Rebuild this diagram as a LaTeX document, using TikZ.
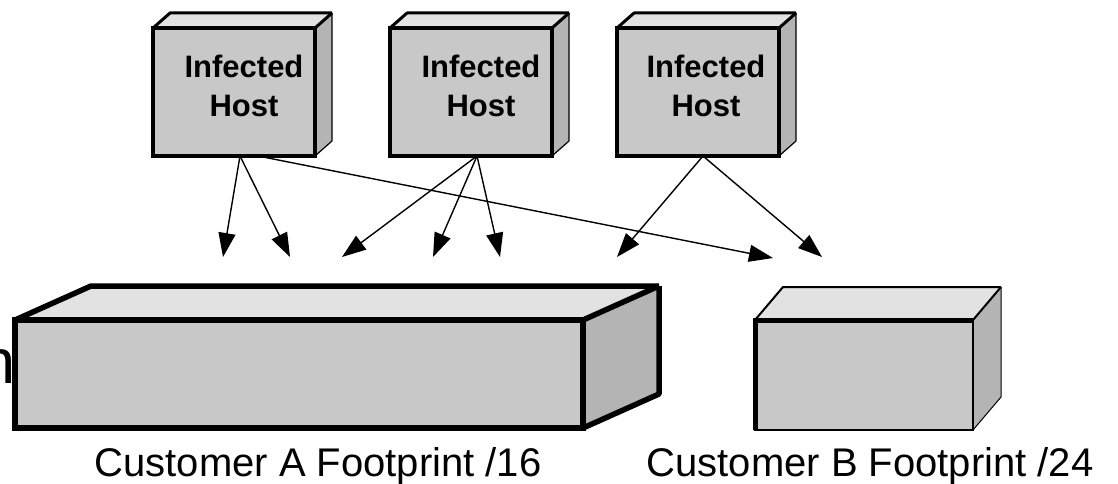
\documentclass[tikz,border=0pt]{standalone}
\usepackage{fontspec}
\setmainfont{Liberation Sans}
\usetikzlibrary{arrows.meta,calc,backgrounds}

\definecolor{frontgray}{RGB}{200,200,200}
\definecolor{topgray}{RGB}{226,226,226}
\definecolor{sidegray}{RGB}{180,180,180}

% top and side faces of a box whose front face is node #1,
% receding by (#2,#3); #4 = outline width, #5 = width of the far edges
\newcommand\cuboidfaces[5]{%
  \fill[topgray] (#1.north west) -- ++(#2,#3) -- ($(#1.north east)+(#2,#3)$) -- (#1.north east) -- cycle;
  \fill[sidegray] (#1.north east) -- ++(#2,#3) -- ($(#1.south east)+(#2,#3)$) -- (#1.south east) -- cycle;
  \draw[line width=#4, line join=round] (#1.north west) -- ++(#2,#3) -- ($(#1.north east)+(#2,#3)$);
  \draw[line width=#4] (#1.north east) -- ++(#2,#3);
  \draw[line width=#5, line join=round] ($(#1.north east)+(#2,#3)$) -- ($(#1.south east)+(#2,#3)$) -- (#1.south east);
}

\begin{document}
\begin{tikzpicture}[x=1pt,y=-1pt,
  front/.style={draw=black, fill=frontgray, inner sep=0pt, outer sep=0pt},
  hostbox/.style={front, line width=4pt, minimum width=162pt, minimum height=128pt},
  hosttext/.style={align=center, inner sep=0pt, font=\bfseries\fontsize{31}{39}\selectfont},
  caption/.style={anchor=base, inner sep=0pt, font=\fontsize{40}{48}\selectfont},
  arr/.style={line width=1.4pt, -{Triangle[length=24pt,width=17pt]}}]

\useasboundingbox (0,0) rectangle (1118,484);

% infected hosts
\node[hostbox] (h1) at (234,92) {};
\node[hostbox] (h2) at (471,92) {};
\node[hostbox] (h3) at (698,92) {};
\node[hosttext] (h1t) at (244,86) {Infected\\Host};
\node[hosttext] (h2t) at (481,86) {Infected\\Host};
\node[hosttext] (h3t) at (706,86) {Infected\\Host};

% customer footprints
\node[front, line width=5.5pt, minimum width=568pt, minimum height=108pt] (ca) at (299,374) {};
\node[front, line width=2.5pt, minimum width=218pt, minimum height=110pt] (cb) at (864,375) {};
\draw[line width=5pt] (cb.south west) -- (cb.north west) -- (cb.north east);

\begin{scope}[on background layer]
  \cuboidfaces{h1}{17}{-15}{3pt}{1.2pt}
  \cuboidfaces{h2}{17}{-15}{3pt}{1.2pt}
  \cuboidfaces{h3}{17}{-15}{3pt}{1.2pt}
  \cuboidfaces{ca}{76}{-34}{5.5pt}{5.5pt}
  \cuboidfaces{cb}{28}{-33}{2pt}{1pt}
\end{scope}

% arrow targets
\coordinate (t1) at (223,257);
\coordinate (t2) at (290,257);
\coordinate (t3) at (773,258);
\coordinate (t4) at (342,257);
\coordinate (t5) at (433,257);
\coordinate (t6) at (500,257);
\coordinate (t7) at (617,257);
\coordinate (t8) at (822,257);

\draw[arr] ($(h1.south)+(6,0)$) -- (t1);
\draw[arr] ($(h1.south)+(6,0)$) -- (t2);
\draw[arr] ($(h1.south)+(24,0)$) -- (t3);
\draw[arr] ($(h2.south)+(6,0)$) -- (t4);
\draw[arr] ($(h2.south)+(6,0)$) -- (t5);
\draw[arr] ($(h2.south)+(6,0)$) -- (t6);
\draw[arr] ($(h3.south)+(5,0)$) -- (t7);
\draw[arr] ($(h3.south)+(5,0)$) -- (t8);

% captions
\node[caption] (la) at (318,476) {Customer A Footprint /16};
\node[caption] (lb) at (870,476) {Customer B Footprint /24};

% trailing letter of a word cut at the left margin
\node[anchor=base east, inner sep=0pt, font=\fontsize{63}{70}\selectfont] (frag) at (16,383) {n};

\end{tikzpicture}
\end{document}
